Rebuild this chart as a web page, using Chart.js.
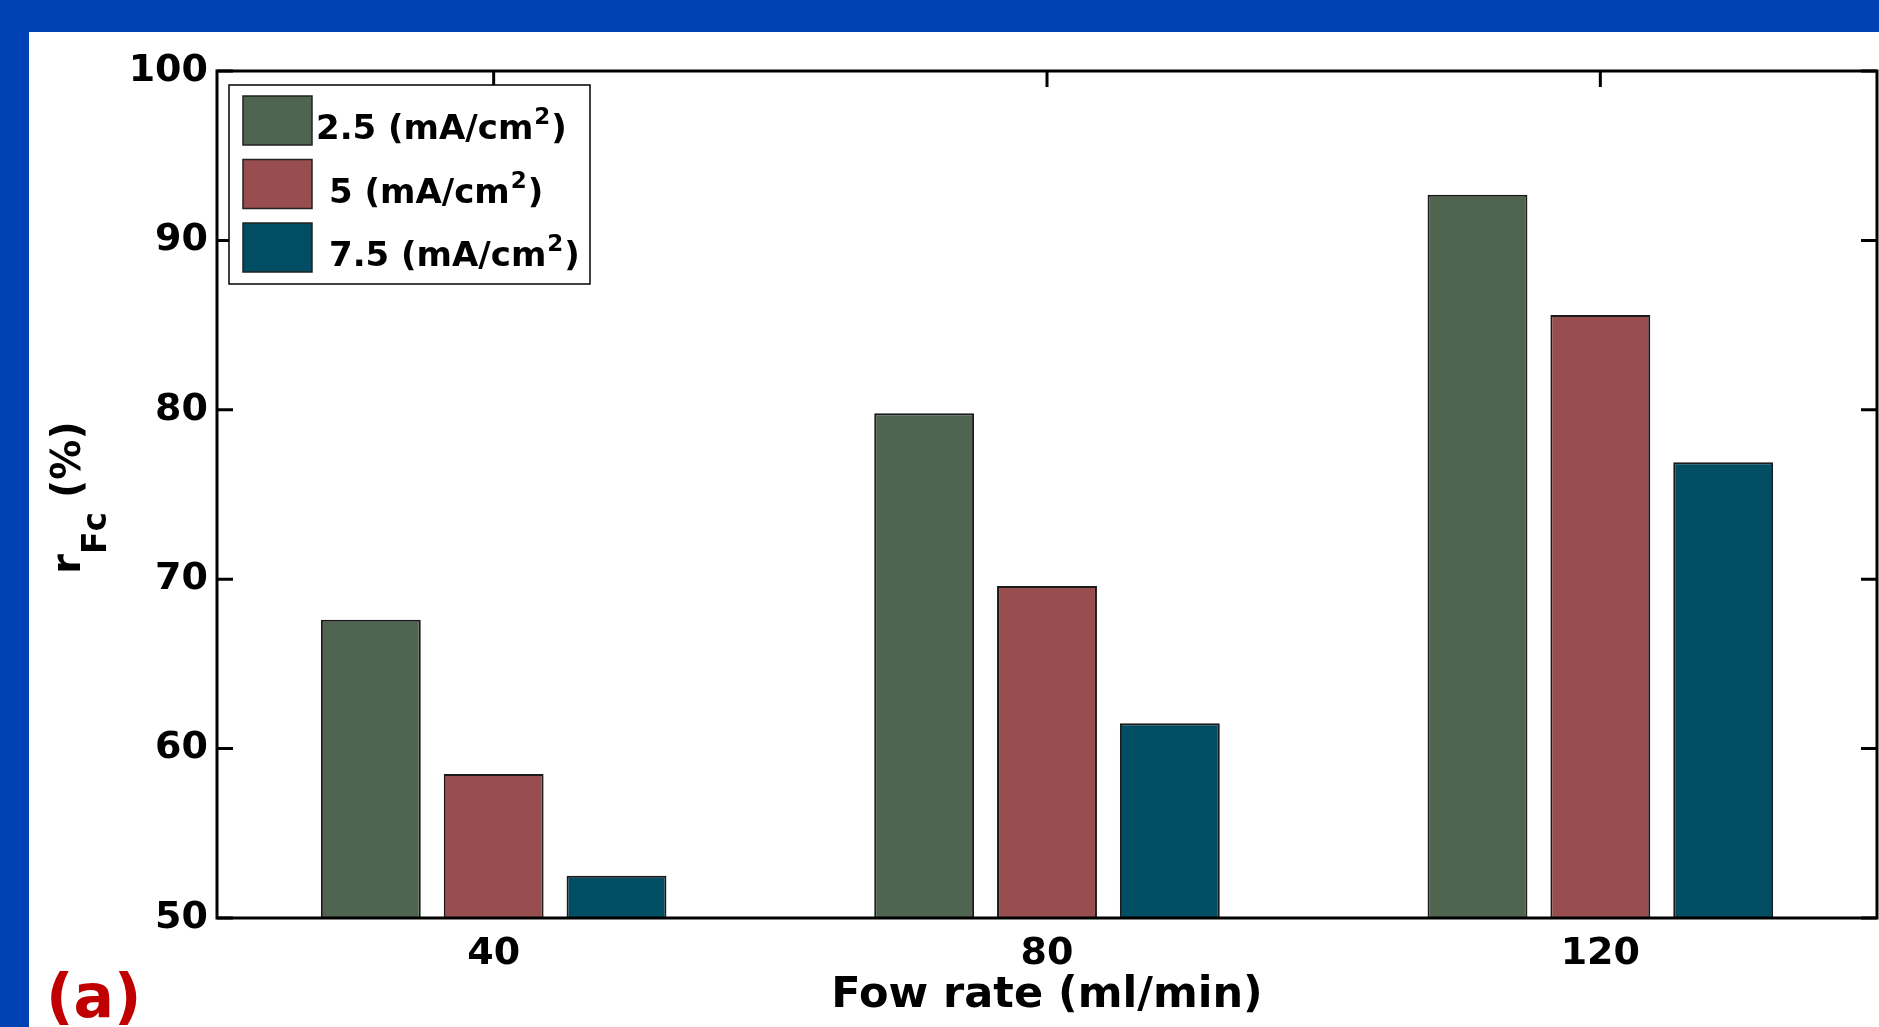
<!DOCTYPE html>
<html lang="en">
<head>
    <meta charset="utf-8">
    <title>Flow rate</title>
    <script src="https://cdn.jsdelivr.net/npm/chart.js@4.4.0/dist/chart.umd.min.js"></script>
    <style>
        html, body { margin: 0; padding: 0; background: #0041b3; overflow: hidden; }
    </style>
</head>
<body>
<canvas id="myChart" width="1879" height="1027"></canvas>
<script>
    var flowRates = ['40', '80', '120'];
    var densities = ['2.5 (mA/cm²)', '5 (mA/cm²)', '7.5 (mA/cm²)'];
    var rfc25 = [67.6, 79.8, 92.7];
    var rfc5 = [58.5, 69.6, 85.6];
    var rfc75 = [52.5, 61.5, 76.9];
    var yTicks = [50, 60, 70, 80, 90, 100];
    var colors = ['#4f654f', '#984e4e', '#014d63'];

    var xTitle = 'Fow rate (ml/min)';
    var yTitleMain = 'r', yTitleSub = 'Fc', yTitleUnit = ' (%)';
    var panelLabel = '(a)';

    var FONT = '"DejaVu Sans", sans-serif';

    // blue frame + white sheet
    var background = {
        id: 'background',
        beforeDraw: function (chart) {
            var c = chart.ctx;
            c.save();
            c.fillStyle = '#0041b3';
            c.fillRect(0, 0, chart.width, chart.height);
            c.fillStyle = '#ffffff';
            c.fillRect(29, 32, chart.width - 29, chart.height - 32);
            c.restore();
        }
    };

    // matlab style box with inward ticks
    var axesBox = {
        id: 'axesBox',
        beforeDatasetsDraw: function (chart) {
            var a = chart.chartArea, x = chart.scales.x, y = chart.scales.y, c = chart.ctx;
            c.save();
            c.strokeStyle = '#000';
            c.lineWidth = 3;
            c.beginPath();
            y.ticks.forEach(function (t, i) {
                var py = y.getPixelForTick(i);
                c.moveTo(a.left, py); c.lineTo(a.left + 16, py);
                c.moveTo(a.right, py); c.lineTo(a.right - 16, py);
            });
            x.ticks.forEach(function (t, i) {
                var px = x.getPixelForTick(i);
                c.moveTo(px, a.top); c.lineTo(px, a.top + 16);
                c.moveTo(px, a.bottom); c.lineTo(px, a.bottom - 16);
            });
            c.stroke();
            c.restore();
        },
        afterDatasetsDraw: function (chart) {
            var a = chart.chartArea, c = chart.ctx;
            c.save();
            c.strokeStyle = '#000';
            c.lineWidth = 3;
            c.strokeRect(a.left, a.top, a.right - a.left, a.bottom - a.top);
            c.restore();
        }
    };

    // label text with a raised "2" instead of the small unicode one
    function drawSup(c, text, x, y, big, small) {
        var parts = text.split('²');
        c.font = big;
        c.fillText(parts[0], x, y);
        x += c.measureText(parts[0]).width;
        if (parts.length > 1) {
            c.font = small;
            c.fillText('2', x + 1, y - 15);
            x += c.measureText('2').width + 2;
            c.font = big;
            c.fillText(parts[1], x, y);
        }
    }

    var boxLegend = {
        id: 'boxLegend',
        afterDraw: function (chart) {
            var a = chart.chartArea, c = chart.ctx;
            var left = a.left + 12, top = a.top + 14;
            c.save();
            c.fillStyle = '#fff';
            c.fillRect(left, top, 361, 199);
            c.strokeStyle = '#000';
            c.lineWidth = 1.5;
            c.strokeRect(left, top, 361, 199);
            c.textBaseline = 'alphabetic';
            chart.data.datasets.forEach(function (ds, i) {
                var rowTop = top + 11 + i * 63.5;
                c.fillStyle = ds.backgroundColor;
                c.fillRect(left + 14, rowTop, 69, 49);
                c.strokeStyle = '#222';
                c.strokeRect(left + 14, rowTop, 69, 49);
                c.fillStyle = '#000';
                drawSup(c, ds.label, left + (i === 0 ? 87 : 100), rowTop + 43,
                    'bold 34px ' + FONT, 'bold 23px ' + FONT);
            });
            c.restore();
        }
    };

    var extraText = {
        id: 'extraText',
        afterDraw: function (chart) {
            var a = chart.chartArea, c = chart.ctx;
            var big = 'bold 40px ' + FONT, small = 'bold 33px ' + FONT;
            c.save();
            c.fillStyle = '#000';
            c.textBaseline = 'alphabetic';
            c.translate(80, (a.top + a.bottom) / 2 + 3);
            c.rotate(-Math.PI / 2);
            c.font = big;
            var w1 = c.measureText(yTitleMain).width, w3 = c.measureText(yTitleUnit).width;
            c.font = small;
            var w2 = c.measureText(yTitleSub).width;
            var x0 = -(w1 + w2 + w3) / 2;
            c.font = big;
            c.fillText(yTitleMain, x0, 0);
            c.font = small;
            c.fillText(yTitleSub, x0 + w1, 26);
            c.font = big;
            c.fillText(yTitleUnit, x0 + w1 + w2, 0);
            c.restore();

            c.save();
            c.fillStyle = '#c00000';
            c.font = 'bold 60px ' + FONT;
            c.textBaseline = 'alphabetic';
            c.fillText(panelLabel, 46, 1017);
            c.restore();
        }
    };

    var tickFont = {family: FONT, size: 38, weight: 'bold'};

    new Chart(document.getElementById('myChart'), {
        type: 'bar',
        data: {
            labels: flowRates,
            datasets: [
                {label: densities[0], data: rfc25, backgroundColor: colors[0]},
                {label: densities[1], data: rfc5, backgroundColor: colors[1]},
                {label: densities[2], data: rfc75, backgroundColor: colors[2]}
            ]
        },
        options: {
            responsive: false,
            animation: false,
            layout: {padding: {top: 71, right: 2, bottom: 0, left: 0}},
            datasets: {
                bar: {
                    borderColor: '#1a1a1a',
                    borderWidth: 2,
                    categoryPercentage: 0.666,
                    barPercentage: 0.813
                }
            },
            plugins: {
                legend: {display: false},
                tooltip: {enabled: false}
            },
            scales: {
                x: {
                    grid: {display: false, drawTicks: false},
                    border: {display: false},
                    ticks: {color: '#000', font: tickFont, padding: 13},
                    title: {
                        display: true,
                        text: xTitle,
                        color: '#000',
                        font: {family: FONT, size: 43, weight: 'bold'},
                        padding: {top: 0, bottom: 5}
                    },
                    afterFit: function (s) { s.height = 109; }
                },
                y: {
                    min: yTicks[0],
                    max: yTicks[yTicks.length - 1],
                    grid: {display: false, drawTicks: false},
                    border: {display: false},
                    ticks: {stepSize: yTicks[1] - yTicks[0], color: '#000', font: tickFont, padding: 9},
                    afterFit: function (s) { s.width = 217; }
                }
            }
        },
        plugins: [background, axesBox, boxLegend, extraText]
    });
</script>
</body>
</html>
